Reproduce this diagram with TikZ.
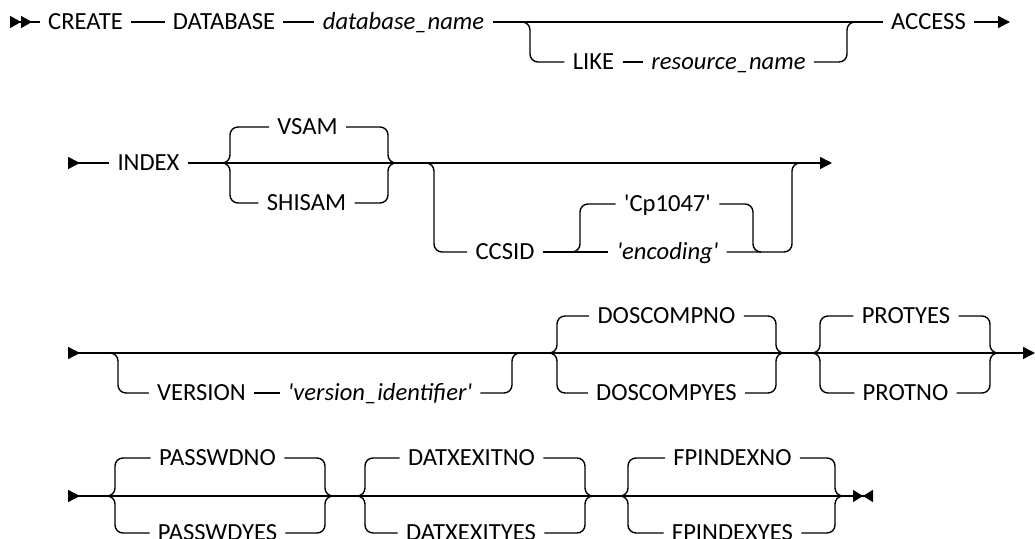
\documentclass[tikz,border=0pt]{standalone}
\usepackage{fontspec}
\setmainfont{Carlito}
\usetikzlibrary{arrows.meta,positioning}

\tikzset{
  rail/.style={line width=0.7pt, rounded corners=4pt},
  kw/.style={inner xsep=4pt, inner ysep=0pt, text height=7.7pt, text depth=0pt,
    font=\fontsize{12.3}{14}\selectfont},
  var/.style={kw, font=\fontsize{12.3}{14}\selectfont\itshape},
  railstart/.style={{Triangle[length=5.5pt,width=6pt,reversed]Triangle[length=5.5pt,width=6pt,reversed]}-},
  rowstart/.style={{Triangle[length=6pt,width=6pt,reversed]}-},
  rowend/.style={-{Triangle[length=6pt,width=6pt]}},
  rowboth/.style={{Triangle[length=6pt,width=6pt,reversed]}-{Triangle[length=6pt,width=6pt]}},
  railstop/.style={{Triangle[length=6pt,width=6pt,reversed]}-{Triangle[length=5pt,width=6pt]Triangle[length=5pt,width=6pt,reversed]}},
}
\newcommand{\sq}{\textquotesingle}

\begin{document}
\begin{tikzpicture}[x=0.5pt, y=-0.5pt]
  \useasboundingbox (0,0) rectangle (1035,539);

  % row 1
  \coordinate (r1s) at (10,22);
  \node[kw] (create) at (85.5,22) {CREATE};
  \node[kw] (database) at (224,22) {DATABASE};
  \node[var] (dbname) at (403.5,22) {database\_name};
  \coordinate (o1a) at (522,22);
  \node[kw] (like) at (593.5,62) {LIKE};
  \node[var] (resname) at (728.5,62) {resource\_name};
  \coordinate (o1b) at (855,22);
  \node[kw] (access) at (928.5,22) {ACCESS};
  \coordinate (r1e) at (1010,22);
  \draw[rail, railstart] (r1s) -- (create);
  \draw[rail] (create) -- (database);
  \draw[rail] (database) -- (dbname);
  \draw[rail] (dbname) -- (access);
  \draw[rail] (o1a) -- ++(8,0) |- (like);
  \draw[rail] (like) -- (resname);
  \draw[rail] (resname) -| ([xshift=-4pt]o1b) -- (o1b);
  \draw[rail, rowend] (access) -- (r1e);

  % row 2
  \coordinate (r2s) at (68,163);
  \node[kw] (index) at (148.5,163) {INDEX};
  \coordinate (c2a) at (222,163);
  \node[kw] (vsam) at (307.5,127) {VSAM};
  \node[kw] (shisam) at (306.5,203) {SHISAM};
  \coordinate (c2b) at (396,163);
  \coordinate (o2a) at (426,163);
  \node[kw] (ccsid) at (505,252) {CCSID};
  \coordinate (c3a) at (572,252);
  \node[kw] (cp) at (667.5,204) {\sq Cp1047\sq};
  \node[var] (enc) at (667.5,252) {\sq encoding\sq};
  \coordinate (c3b) at (761,252);
  \coordinate (o2b) at (800,163);
  \coordinate (r2e) at (832,163);
  \draw[rail, rowstart] (r2s) -- (index);
  \draw[rail, rowend] (index) -- (r2e);
  \draw[rail] (c2a) -- ++(8,0) |- (vsam);
  \draw[rail] (c2a) -- ++(8,0) |- (shisam);
  \draw[rail] (vsam) -| ([xshift=-4pt]c2b) -- (c2b);
  \draw[rail] (shisam) -| ([xshift=-4pt]c2b) -- (c2b);
  \draw[rail] (o2a) -- ++(8,0) |- (ccsid);
  \draw[rail] (ccsid) -- (enc);
  \draw[rail] (c3a) -- ++(8,0) |- (cp);
  \draw[rail] (cp) -| ([xshift=-4pt]c3b) -- (c3b);
  \draw[rail] (enc) -| ([xshift=-4pt]o2b) -- (o2b);

  % row 3
  \coordinate (r3s) at (68,353);
  \coordinate (o3a) at (110,353);
  \node[kw] (version) at (201.5,393) {VERSION};
  \node[var] (verid) at (380,393) {\sq version\_identifier\sq};
  \coordinate (o3b) at (520,353);
  \coordinate (c4a) at (549,353);
  \node[kw] (dosno) at (666.5,316) {DOSCOMPNO};
  \node[kw] (dosyes) at (666.5,393) {DOSCOMPYES};
  \coordinate (c4b) at (784,353);
  \coordinate (c5a) at (812,353);
  \node[kw] (protyes) at (906,316) {PROTYES};
  \node[kw] (protno) at (905.5,393) {PROTNO};
  \coordinate (c5b) at (998,353);
  \coordinate (r3e) at (1035,353);
  \draw[rail, rowboth] (r3s) -- (r3e);
  \draw[rail] (o3a) -- ++(8,0) |- (version);
  \draw[rail] (version) -- (verid);
  \draw[rail] (verid) -| ([xshift=-4pt]o3b) -- (o3b);
  \foreach \a/\b/\up/\dn in {c4a/c4b/dosno/dosyes, c5a/c5b/protyes/protno} {
    \draw[rail] (\a) -- ++(8,0) |- (\up);
    \draw[rail] (\a) -- ++(8,0) |- (\dn);
    \draw[rail] (\up) -| ([xshift=-4pt]\b) -- (\b);
    \draw[rail] (\dn) -| ([xshift=-4pt]\b) -- (\b);
  }

  % row 4
  \coordinate (r4s) at (68,496);
  \coordinate (c6a) at (107,496);
  \node[kw] (pwno) at (217.5,458) {PASSWDNO};
  \node[kw] (pwyes) at (217.5,533) {PASSWDYES};
  \coordinate (c6b) at (333,496);
  \coordinate (c7a) at (357,496);
  \node[kw] (dxno) at (471.5,458) {DATXEXITNO};
  \node[kw] (dxyes) at (471,533) {DATXEXITYES};
  \coordinate (c7b) at (593,496);
  \coordinate (c8a) at (620,496);
  \node[kw] (fpno) at (732.5,458) {FPINDEXNO};
  \node[kw] (fpyes) at (732.5,533) {FPINDEXYES};
  \coordinate (c8b) at (843,496);
  \coordinate (r4e) at (873,496);
  \draw[rail, railstop] (r4s) -- (r4e);
  \foreach \a/\b/\up/\dn in {c6a/c6b/pwno/pwyes, c7a/c7b/dxno/dxyes, c8a/c8b/fpno/fpyes} {
    \draw[rail] (\a) -- ++(8,0) |- (\up);
    \draw[rail] (\a) -- ++(8,0) |- (\dn);
    \draw[rail] (\up) -| ([xshift=-4pt]\b) -- (\b);
    \draw[rail] (\dn) -| ([xshift=-4pt]\b) -- (\b);
  }
\end{tikzpicture}
\end{document}
